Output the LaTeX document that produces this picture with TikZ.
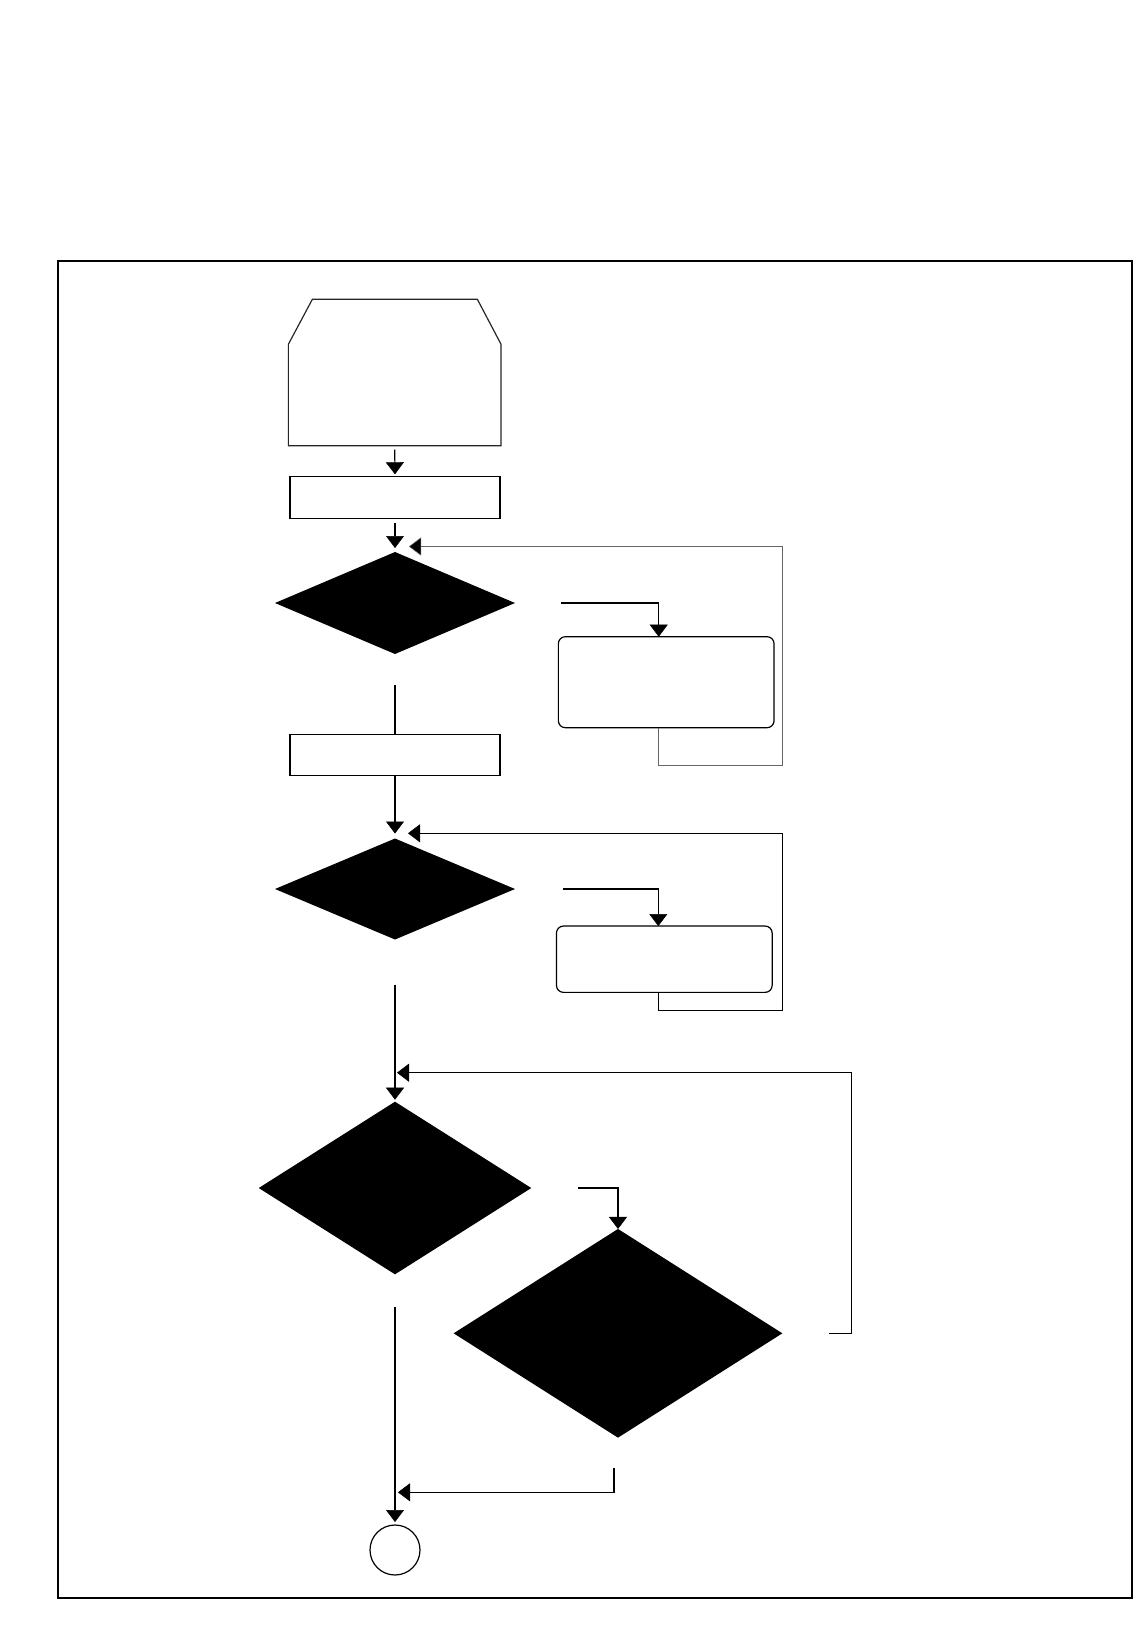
\documentclass[tikz,border=0pt]{standalone}
\usetikzlibrary{shapes.geometric,arrows.meta,calc}
\begin{document}
\begin{tikzpicture}[x=1pt,y=-1pt,
  every node/.style={inner sep=0pt, outer sep=0pt},
  boxst/.style={rectangle, draw=black, line width=1.2pt},
  rbox/.style={rectangle, draw=black, line width=1.2pt, rounded corners=7pt},
  dia/.style={diamond, fill=black, draw=none},
  conn/.style={line width=1.2pt, draw=black},
  arr/.style={conn, -{Triangle[length=12pt,width=18pt,line width=0.5pt,fill=black]}},
  greyline/.style={draw=black!60},
]
\useasboundingbox (0,0) rectangle (1134,1638);
% frame
\node[draw=black, line width=2.2pt, minimum width=1073.8pt, minimum height=1336.7pt] (frame) at (594.7,929.35) {};
% start (chamfered top)
\node[minimum width=212.7pt, minimum height=146.4pt] (start) at (394.7,372.5) {};
\draw[line width=1.2pt, draw=black!85] (start.south west) -- ($(start.north west)+(0,45)$) -- ($(start.north west)+(24,0)$) -- ($(start.north east)+(-23.7,0)$) -- ($(start.north east)+(0,45)$) -- (start.south east) -- cycle;
% boxes
\node[boxst, minimum width=210pt, minimum height=42pt] (A) at (395,497.3) {};
\node[dia, minimum width=240pt, minimum height=102pt] (D1) at (395,603) {};
\node[rbox, minimum width=215.7pt, minimum height=91pt] (R1) at (666.2,682.2) {};
\node[boxst, minimum width=210pt, minimum height=41pt] (B) at (395,754.8) {};
\node[dia, minimum width=240pt, minimum height=101pt] (D2) at (395,889) {};
\node[rbox, minimum width=215.7pt, minimum height=66.3pt] (R2) at (664.3,959.2) {};
\node[dia, minimum width=272.5pt, minimum height=172.6pt] (D3) at (395,1188) {};
\node[dia, minimum width=328.7pt, minimum height=208.7pt] (D4) at (618,1333.3) {};
\node[circle, draw=black, line width=1.2pt, minimum size=50pt] (End) at (395,1550) {};
% junction points
\coordinate (j1) at (409,546.5);
\coordinate (j2) at (408,833.3);
\coordinate (j3) at (397,1072.7);
\coordinate (j4) at (398,1492.3);
% connectors
\draw[arr, shorten <=4pt, shorten >=2pt] (start.south) -- (A.north);
\draw[arr, shorten <=5pt, shorten >=4pt] (A.south) -- (D1.north);
\draw[arr] ($(D1.east)+(46,0)$) -| ($(R1.north)+(-7.5,0)$);
\draw[arr, greyline] ($(R1.south)+(-7.5,0)$) |- (782.7,765.7) |- (j1);
\draw[conn] ($(D1.south)+(0,31)$) -- (B.north);
\draw[arr, shorten >=5pt] (B.south) -- (D2.north);
\draw[arr] ($(D2.east)+(48,0)$) -| ($(R2.north)+(-6,0)$);
\draw[arr] ($(R2.south)+(-6,0)$) |- (782.5,1010.3) |- (j2);
\draw[arr, shorten >=2pt] ($(D2.south)+(0,45)$) -- (D3.north);
\draw[arr] ($(D3.east)+(47,0)$) -| (D4.north);
\draw[arr] ($(D4.east)+(46.5,0)$) -| (851.7,1072.7) -- (j3);
\draw[arr, shorten >=3pt] ($(D3.south)+(0,33)$) -- (End.north);
\draw[arr] ($(D4.south)+(-4,30)$) |- (j4);
\end{tikzpicture}
\end{document}
